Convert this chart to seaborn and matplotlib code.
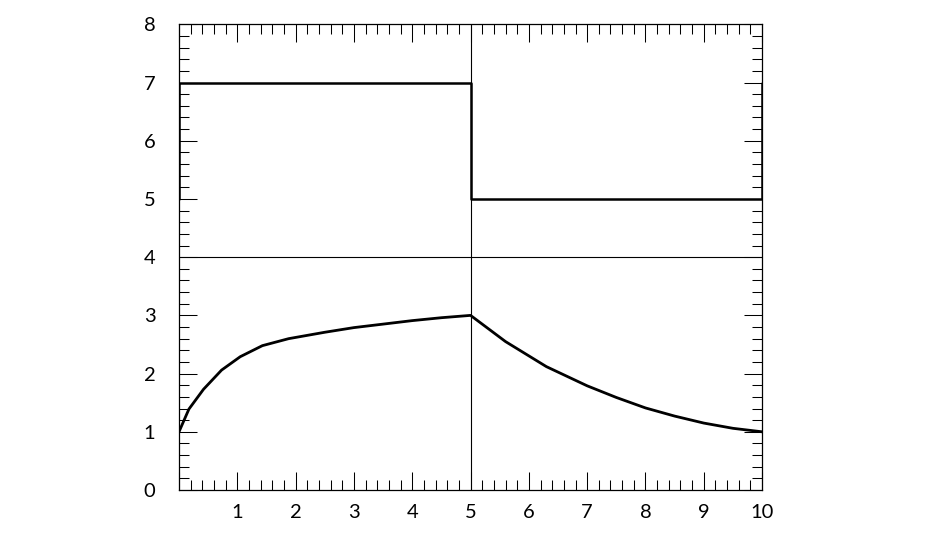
import numpy as np
import pandas as pd
import matplotlib
matplotlib.use("Agg")
import matplotlib.pyplot as plt
from matplotlib.ticker import MultipleLocator
import seaborn as sns

# step curve (upper panel)
step_x = [0, 0, 5, 5, 10, 10]
step_y = [5, 7, 7, 5, 5, 7]

# rising part of the lower curve
rise_x = [0.0, 0.17, 0.42, 0.73, 1.05, 1.43, 1.88, 2.5, 3.0, 3.5, 4.0, 4.5, 5.0]
rise_y = [1.0, 1.39, 1.73, 2.06, 2.29, 2.48, 2.60, 2.71, 2.79, 2.85, 2.91, 2.96, 3.0]

# decaying part of the lower curve
decay_x = [5.0, 5.6, 6.3, 7.0, 7.5, 8.0, 8.5, 9.0, 9.5, 10.0]
decay_y = [3.0, 2.55, 2.12, 1.79, 1.59, 1.41, 1.27, 1.15, 1.06, 1.0]

x_labels = ["", "1", "2", "3", "4", "5", "6", "7", "8", "9", "10"]
y_labels = ["0", "1", "2", "3", "4", "5", "6", "7", "8"]

sns.set_style("ticks")
plt.rcParams["font.family"] = ["Lato", "DejaVu Sans"]

fig = plt.figure(figsize=(9.27, 5.37), dpi=100)
ax = fig.add_axes([0.1931, 0.0875, 0.629, 0.8672])

# reference lines
ax.axhline(4, color="black", lw=0.8)
ax.axvline(5, color="black", lw=0.8)

curve = pd.DataFrame({"x": rise_x + decay_x[1:], "y": rise_y + decay_y[1:]})
steps = pd.DataFrame({"x": step_x, "y": step_y})

sns.lineplot(data=steps, x="x", y="y", sort=False, estimator=None,
             color="black", lw=1.8, ax=ax)
sns.lineplot(data=curve, x="x", y="y", sort=False, estimator=None,
             color="black", lw=2.0, ax=ax)

ax.set_xlim(0, 10)
ax.set_ylim(0, 8)
ax.set_xticks(range(11))
ax.set_xticklabels(x_labels)
ax.set_yticks(range(9))
ax.set_yticklabels(y_labels)
ax.xaxis.set_minor_locator(MultipleLocator(0.2))
ax.yaxis.set_minor_locator(MultipleLocator(0.2))
ax.set_xlabel("")
ax.set_ylabel("")

ax.tick_params(which="both", direction="in", top=True, right=True,
               color="black", width=0.75, labelcolor="black")
ax.tick_params(which="major", length=13)
ax.tick_params(which="minor", length=7)
ax.tick_params(axis="x", which="major", pad=10, labelsize=14.5)
ax.tick_params(axis="y", which="major", pad=17, labelsize=14.5)

for sp in ax.spines.values():
    sp.set_visible(True)
    sp.set_linewidth(0.9)
    sp.set_color("black")

fig.savefig("out.png", dpi=100)
